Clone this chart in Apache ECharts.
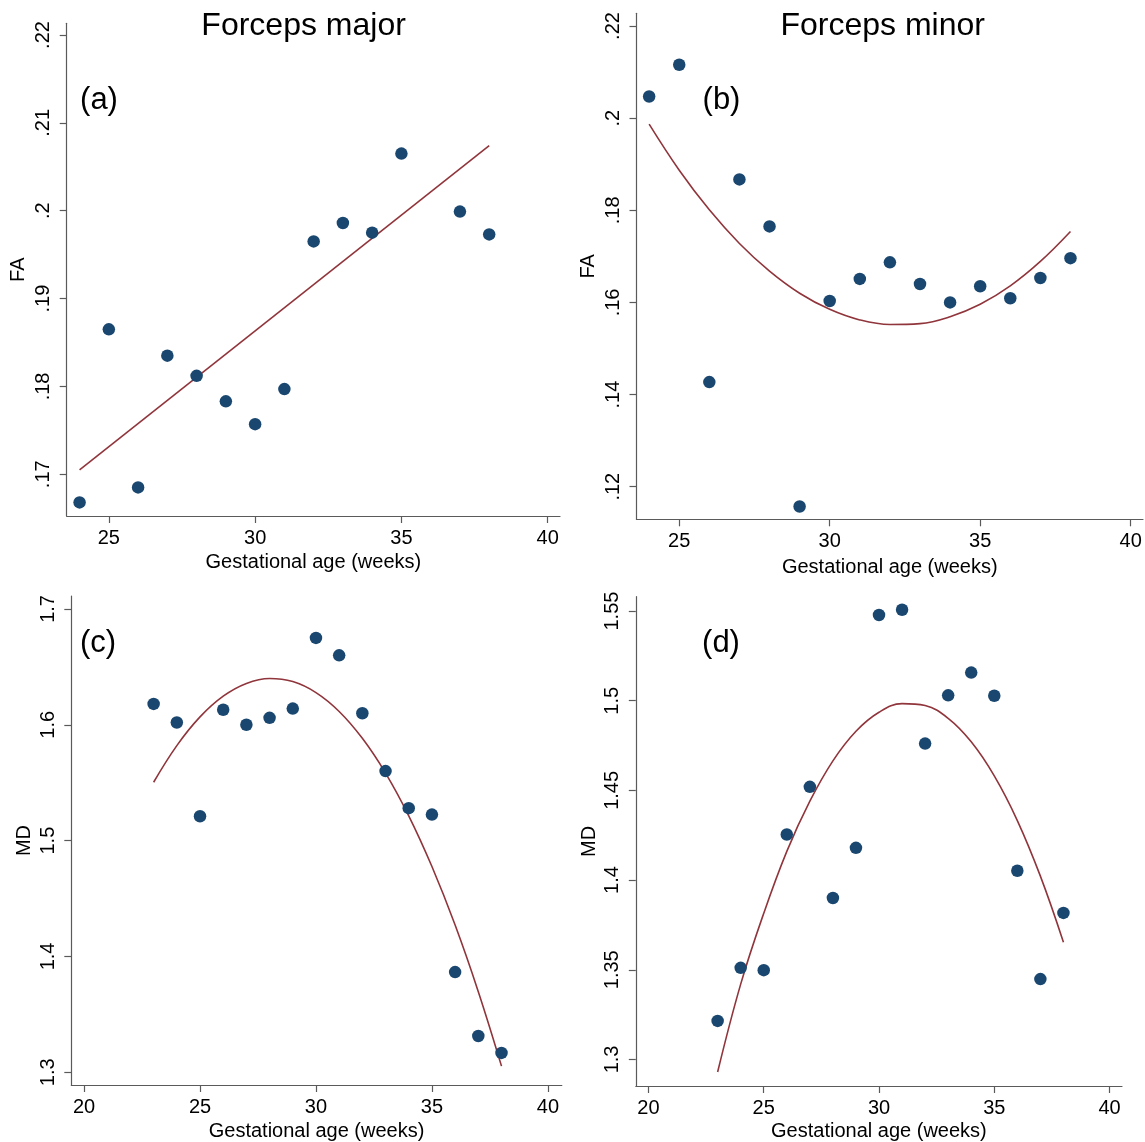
<!DOCTYPE html>
<html>
<head>
<meta charset="utf-8">
<script src="https://cdn.jsdelivr.net/npm/echarts@6/dist/echarts.min.js"></script>
<style>
html,body{margin:0;padding:0;background:#fff;}
#chart{width:1145px;height:1142px;}
</style>
</head>
<body>
<div id="chart"></div>
<script>
// ---------- data ----------
const weeksA = [24, 25, 26, 27, 28, 29, 30, 31, 32, 33, 34, 35, 37, 38];
const faMajor = [0.1668, 0.1865, 0.1685, 0.1835, 0.1812, 0.1783, 0.1757, 0.1797, 0.1965, 0.1986, 0.1975, 0.2065, 0.1999, 0.1973];
const fitWeeksA = [24, 38];
const fitFaMajor = [0.1705, 0.2074];

const weeksB = [24, 25, 26, 27, 28, 29, 30, 31, 32, 33, 34, 35, 36, 37, 38];
const faMinor = [0.2047, 0.2116, 0.1427, 0.1867, 0.1765, 0.1157, 0.1603, 0.1651, 0.1687, 0.1640, 0.1600, 0.1635, 0.1609, 0.1653, 0.1696];
const fitFaMinor = [0.1987, 0.1887, 0.1801, 0.1728, 0.1668, 0.1620, 0.1585, 0.1562, 0.1552, 0.1554, 0.1569, 0.1596, 0.1636, 0.1689, 0.1754];

const weeksC = [23, 24, 25, 26, 27, 28, 29, 30, 31, 32, 33, 34, 35, 36, 37, 38];
const mdMajor = [1.618, 1.602, 1.521, 1.613, 1.600, 1.606, 1.614, 1.675, 1.660, 1.610, 1.560, 1.528, 1.5225, 1.3865, 1.3313, 1.3167];
const fitMdMajor = [1.5504, 1.582, 1.6068, 1.6247, 1.6357, 1.640, 1.6373, 1.6278, 1.6115, 1.5883, 1.5583, 1.5214, 1.4776, 1.4271, 1.3696, 1.3053];

const weeksD = [23, 24, 25, 26, 27, 28, 29, 30, 31, 32, 33, 34, 35, 36, 37, 38];
const mdMinor = [1.3215, 1.3511, 1.3498, 1.4254, 1.452, 1.390, 1.418, 1.5478, 1.5507, 1.4761, 1.503, 1.5157, 1.5028, 1.4052, 1.3448, 1.3817];
const fitMdMinor = [1.2930, 1.3420, 1.3815, 1.4160, 1.4440, 1.4665, 1.4830, 1.4936, 1.4984, 1.4973, 1.4902, 1.4771, 1.4581, 1.4332, 1.4022, 1.3654];

const xTicksAB = [25, 30, 35, 40];
const xTicksCD = [20, 25, 30, 35, 40];
const yTicksA = [0.17, 0.18, 0.19, 0.20, 0.21, 0.22];
const yLabelsA = ['.17', '.18', '.19', '.2', '.21', '.22'];
const yTicksB = [0.12, 0.14, 0.16, 0.18, 0.20, 0.22];
const yLabelsB = ['.12', '.14', '.16', '.18', '.2', '.22'];
const yTicksC = [1.3, 1.4, 1.5, 1.6, 1.7];
const yLabelsC = ['1.3', '1.4', '1.5', '1.6', '1.7'];
const yTicksD = [1.3, 1.35, 1.4, 1.45, 1.5, 1.55];
const yLabelsD = ['1.3', '1.35', '1.4', '1.45', '1.5', '1.55'];

const panelTitles = ['Forceps major', 'Forceps minor'];
const panelTags = ['(a)', '(b)', '(c)', '(d)'];
const xName = 'Gestational age (weeks)';
const yNames = ['FA', 'FA', 'MD', 'MD'];

// ---------- styling ----------
const FONT = 'Liberation Sans, Arial, Helvetica, sans-serif';
const AXIS_COLOR = '#5a5a5a';
const DOT_COLOR = '#1a476f';
const FIT_COLOR = '#90353b';

function zip(xs, ys) { return xs.map((x, i) => [x, ys[i]]); }

function xAxis(gridIndex, min, max, ticks, nameGap) {
  return {
    type: 'value', gridIndex, min, max, name: xName,
    nameLocation: 'middle', nameGap,
    nameTextStyle: { fontFamily: FONT, fontSize: 20, color: '#000' },
    splitLine: { show: false },
    axisLine: { onZero: false, lineStyle: { color: AXIS_COLOR, width: 1.2 } },
    axisTick: { show: true, length: 7, customValues: ticks, lineStyle: { color: AXIS_COLOR, width: 1.2 } },
    axisLabel: { customValues: ticks, margin: 12, fontFamily: FONT, fontSize: 20, color: '#000',
      formatter: v => String(Math.round(v)) }
  };
}
function yAxis(gridIndex, min, max, ticks, labels, name, nameGap) {
  return {
    type: 'value', gridIndex, min, max, name,
    nameLocation: 'middle', nameGap, nameRotate: 90,
    nameTextStyle: { fontFamily: FONT, fontSize: 20, color: '#000' },
    splitLine: { show: false },
    axisLine: { onZero: false, lineStyle: { color: AXIS_COLOR, width: 1.2 } },
    axisTick: { show: true, length: 7, customValues: ticks, lineStyle: { color: AXIS_COLOR, width: 1.2 } },
    axisLabel: { customValues: ticks, rotate: 90, margin: 13, fontFamily: FONT, fontSize: 20, color: '#000',
      formatter: v => { const i = ticks.findIndex(t => Math.abs(t - v) < 1e-9); return i >= 0 ? labels[i] : ''; } }
  };
}
function scatter(i, xs, ys) {
  return { type: 'scatter', xAxisIndex: i, yAxisIndex: i, data: zip(xs, ys),
    symbol: 'circle', symbolSize: 12.5, itemStyle: { color: DOT_COLOR, opacity: 1 }, z: 3 };
}
function fit(i, xs, ys, smooth) {
  return { type: 'line', xAxisIndex: i, yAxisIndex: i, data: zip(xs, ys), smooth,
    showSymbol: false, symbol: 'none', lineStyle: { color: FIT_COLOR, width: 1.6 }, z: 2 };
}
function text(str, x, y, size) {
  return { type: 'text', x, y, style: { text: str, fontFamily: FONT, fontSize: size, fill: '#000',
    align: 'center', verticalAlign: 'middle' } };
}

const chart = echarts.init(document.getElementById('chart'), null, { renderer: 'canvas' });
chart.setOption({
  animation: false,
  backgroundColor: '#fff',
  grid: [
    { left: 66.7, top: 23.3, width: 493.3, height: 492.7 },
    { left: 636.5, top: 13.3, width: 506.5, height: 506 },
    { left: 71.3, top: 596, width: 490.5, height: 489 },
    { left: 635.8, top: 596.7, width: 486.2, height: 490.6 }
  ],
  xAxis: [
    xAxis(0, 23.56, 40.42, xTicksAB, 36),
    xAxis(1, 23.58, 40.41, xTicksAB, 38),
    xAxis(2, 19.45, 40.6, xTicksCD, 36),
    xAxis(3, 19.45, 40.54, xTicksCD, 35)
  ],
  yAxis: [
    yAxis(0, 0.16525, 0.22133, yTicksA, yLabelsA, yNames[0], 38),
    yAxis(1, 0.11292, 0.22276, yTicksB, yLabelsB, yNames[1], 38),
    yAxis(2, 1.289, 1.7112, yTicksC, yLabelsC, yNames[2], 37),
    yAxis(3, 1.2852, 1.558, yTicksD, yLabelsD, yNames[3], 36)
  ],
  series: [
    fit(0, fitWeeksA, fitFaMajor, false),
    scatter(0, weeksA, faMajor),
    fit(1, weeksB, fitFaMinor, 0.4),
    scatter(1, weeksB, faMinor),
    fit(2, weeksC, fitMdMajor, 0.4),
    scatter(2, weeksC, mdMajor),
    fit(3, weeksD, fitMdMinor, 0.4),
    scatter(3, weeksD, mdMinor)
  ],
  graphic: [
    text(panelTitles[0], 303.6, 26, 32),
    text(panelTitles[1], 882.7, 26, 32),
    text(panelTags[0], 99, 100, 31),
    text(panelTags[1], 721.5, 100, 31),
    text(panelTags[2], 98, 643, 31),
    text(panelTags[3], 721, 643, 31)
  ]
});
</script>
</body>
</html>
